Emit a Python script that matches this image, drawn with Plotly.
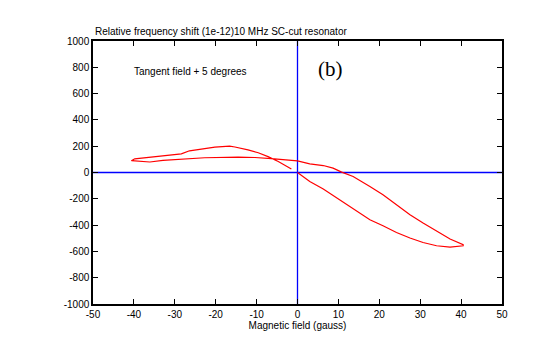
import plotly.graph_objects as go

# Loop trace: origin -> lower branch to +41 -> upper branch back to -40 -> hump branch toward origin
field_gauss = [0, 3.0, 6.3, 10.3, 13.6, 17.7, 20.9, 24.2, 27.5, 30.7, 34.0, 37.3, 40.5,
               40.5, 37.3, 34.0, 30.7, 27.5, 24.2, 20.9, 17.7, 13.6, 10.8, 8.7, 6.3, 3.0, 0,
               -3.1, -6.4, -10.4, -14.5, -22.7, -27.2, -32.9, -36.1, -40.6,
               -39.8, -38.2, -34.5, -31.2, -28.4, -26.4, -23.9, -20.2, -16.6, -15.3,
               -12.1, -9.6, -7.2, -4.7, -1.5]
freq_shift = [0, -68, -126, -207, -278, -359, -405, -456, -498, -532, -557, -567, -557,
              -549, -506, -448, -384, -321, -245, -169, -106, -30, 3, 33, 53, 66, 88,
              98, 106, 114, 117, 112, 104, 92, 80, 90,
              104, 109, 119, 129, 142, 165, 175, 193, 200, 194,
              172, 150, 121, 84, 26]

x_ticks = list(range(-50, 51, 10))
y_ticks = list(range(-1000, 1001, 200))

fig = go.Figure()
fig.add_trace(go.Scatter(x=field_gauss, y=freq_shift, mode="lines",
                         line=dict(color="#ff0000", width=1.2), showlegend=False))

fig.add_shape(type="line", x0=-50, x1=50, y0=0, y1=0, line=dict(color="#0000ff", width=1.3), layer="below")
fig.add_shape(type="line", x0=0, x1=0, y0=-1000, y1=1000, line=dict(color="#0000ff", width=1.3), layer="below")

axis_common = dict(showgrid=False, zeroline=False, showline=True, linecolor="black", linewidth=1.5,
                   mirror="ticks", ticks="inside", ticklen=5, tickwidth=1.2, tickcolor="black",
                   tickfont=dict(family="Liberation Sans, Arial", size=10, color="black"))

fig.update_layout(
    width=532, height=347,
    margin=dict(l=85, r=38, t=33, b=51),
    paper_bgcolor="white", plot_bgcolor="white",
    xaxis=dict(range=[-50, 50], tickvals=x_ticks, ticktext=[str(v) for v in x_ticks],
               title=dict(text="Magnetic field (gauss)", standoff=2,
                          font=dict(family="Liberation Sans, Arial", size=10, color="black")),
               **axis_common),
    yaxis=dict(range=[-1000, 1000], tickvals=y_ticks, ticktext=[str(v) for v in y_ticks], **axis_common),
    annotations=[
        dict(text="Relative frequency shift (1e-12)10 MHz SC-cut resonator", xref="paper", yref="paper",
             x=0, y=1, xanchor="left", yanchor="bottom", yshift=2, showarrow=False,
             font=dict(family="Liberation Sans, Arial", size=10, color="black")),
        dict(text="Tangent field + 5 degrees", x=-40.5, y=770, xanchor="left", yanchor="middle",
             showarrow=False, font=dict(family="Liberation Sans, Arial", size=10, color="black")),
        dict(text="(b)", x=4.5, y=790, xanchor="left", yanchor="middle", showarrow=False,
             font=dict(family="Liberation Serif, Times New Roman", size=21, color="black")),
    ],
)

fig.write_html("out.html")
